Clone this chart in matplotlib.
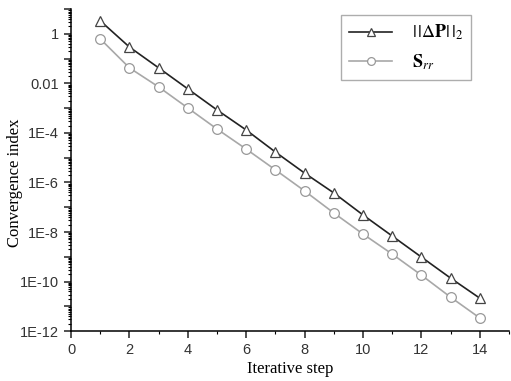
import matplotlib
matplotlib.use("Agg")
import matplotlib.pyplot as plt
import numpy as np
from matplotlib.ticker import LogLocator, FixedLocator, NullFormatter, FuncFormatter

# data (log10 of the values)
steps = np.arange(1, 15)
log_dP = [0.53, -0.53, -1.37, -2.22, -3.07, -3.88, -4.77, -5.62,
          -6.42, -7.31, -8.16, -9.01, -9.86, -10.67]
log_Srr = [-0.20, -1.37, -2.14, -2.99, -3.84, -4.65, -5.49, -6.34,
           -7.23, -8.08, -8.89, -9.74, -10.63, -11.47]
dP = 10.0 ** np.array(log_dP)
Srr = 10.0 ** np.array(log_Srr)

plt.rcParams['mathtext.fontset'] = 'stix'

fig = plt.figure(figsize=(5.11, 3.81), dpi=100)
ax = fig.add_axes([0.139, 0.131, 0.857, 0.845])

ax.plot(steps, dP, color='#222222', lw=1.2, marker='^', ms=7.5,
        mfc='white', mec='#444444', mew=0.9, label=r'$|\,|\Delta\mathbf{P}|\,|_2$')
ax.plot(steps, Srr, color='#a8a8a8', lw=1.2, marker='o', ms=7,
        mfc='white', mec='#999999', mew=0.9, label=r'$\mathbf{S}_{rr}$')

ax.set_yscale('log')
ax.set_xlim(0, 15)
ax.set_ylim(1e-12, 10)

ax.set_xticks([0, 2, 4, 6, 8, 10, 12, 14])
ax.xaxis.set_minor_locator(FixedLocator([1, 3, 5, 7, 9, 11, 13, 15]))

ax.yaxis.set_major_locator(FixedLocator([10.0 ** k for k in range(-12, 2)]))
ax.yaxis.set_minor_locator(LogLocator(base=10, subs=np.arange(2, 10), numticks=30))
ax.yaxis.set_minor_formatter(NullFormatter())

def ylab(v, pos):
    e = int(round(np.log10(v)))
    if e % 2:
        return ''
    if e == 0:
        return '1'
    if e == -2:
        return '0.01'
    return '1E%d' % e
ax.yaxis.set_major_formatter(FuncFormatter(ylab))

for s in ['top', 'right']:
    ax.spines[s].set_visible(False)
ax.spines['left'].set_linewidth(1.1)
ax.spines['bottom'].set_linewidth(1.1)
ax.tick_params(which='major', direction='out', length=5, width=1.1,
               labelsize=10.5, colors='#222222', labelcolor='#333333')
ax.tick_params(which='minor', direction='out', length=2.5, width=0.8)
for lab in ax.get_xticklabels() + ax.get_yticklabels():
    lab.set_family('Liberation Sans')

ax.set_xlabel('Iterative step', family='Liberation Serif', fontsize=12, labelpad=3)
ax.set_ylabel('Convergence index', family='Liberation Serif', fontsize=12)
ax.yaxis.set_label_coords(-0.11, 0.46)

leg = ax.legend(loc='upper right', bbox_to_anchor=(0.935, 1.01), fontsize=13,
                frameon=True, fancybox=False, edgecolor='#999999', markerscale=0.8,
                handlelength=2.4, labelspacing=0.55, borderpad=0.45, handletextpad=1.1)
leg.get_frame().set_linewidth(1.0)

fig.savefig('out.png', dpi=100)
